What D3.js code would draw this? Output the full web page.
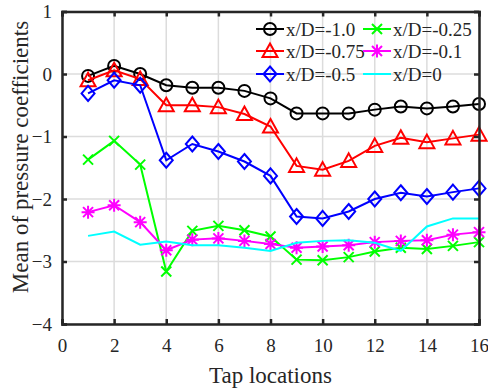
<!DOCTYPE html>
<html>
<head>
<meta charset="utf-8">
<script src="https://cdn.jsdelivr.net/npm/d3@7"></script>
<style>
  body { margin: 0; background: #fff; }
  svg text { font-family: "Liberation Serif", "Times New Roman", serif; fill: #262626; }
</style>
</head>
<body>
<div id="chart"></div>
<script>
// tap locations
const taps = [1, 2, 3, 4, 5, 6, 7, 8, 9, 10, 11, 12, 13, 14, 15, 16];
const xTicks = [0, 2, 4, 6, 8, 10, 12, 14, 16];
const yTicks = [-4, -3, -2, -1, 0, 1];

const labels = ["x/D=-1.0", "x/D=-0.75", "x/D=-0.5", "x/D=-0.25", "x/D=-0.1", "x/D=0"];
const colors = ["#000000", "#ff0000", "#0000ff", "#00ff00", "#ff00ff", "#00ffff"];
const markers = ["circle", "triangle", "diamond", "cross", "star", "none"];

const cpM10 = [-0.03, 0.13, 0.0, -0.18, -0.22, -0.22, -0.27, -0.39, -0.63, -0.63, -0.63, -0.57, -0.52, -0.55, -0.52, -0.48];
const cpM075 = [-0.1, 0.06, -0.08, -0.5, -0.5, -0.53, -0.64, -0.84, -1.47, -1.53, -1.39, -1.15, -1.02, -1.09, -1.03, -0.97];
const cpM05 = [-0.31, -0.1, -0.18, -1.38, -1.12, -1.24, -1.4, -1.63, -2.28, -2.31, -2.2, -2.0, -1.9, -1.96, -1.89, -1.83];
const cpM025 = [-1.37, -1.07, -1.45, -3.16, -2.51, -2.43, -2.5, -2.6, -2.97, -2.98, -2.93, -2.84, -2.78, -2.8, -2.75, -2.69];
const cpM01 = [-2.21, -2.1, -2.37, -2.82, -2.65, -2.63, -2.67, -2.72, -2.78, -2.76, -2.74, -2.69, -2.67, -2.66, -2.57, -2.53];
const cp0 = [-2.59, -2.52, -2.73, -2.68, -2.74, -2.74, -2.78, -2.83, -2.7, -2.67, -2.66, -2.7, -2.83, -2.44, -2.31, -2.31];

const series = [cpM10, cpM075, cpM05, cpM025, cpM01, cp0];

const W = 488, H = 389;
const margin = { top: 11.5, right: 9, bottom: 65, left: 62 };
const width = W - margin.left - margin.right;
const height = H - margin.top - margin.bottom;
const serif = "'Liberation Serif', 'Times New Roman', serif";

const svg = d3.select("#chart").append("svg")
  .attr("width", W).attr("height", H);
const g = svg.append("g")
  .attr("transform", "translate(" + margin.left + "," + margin.top + ")");

const x = d3.scaleLinear().domain([0, 16]).range([0, width]);
const y = d3.scaleLinear().domain([-4, 1]).range([height, 0]);

// grid
g.append("g").selectAll("line").data(xTicks).join("line")
  .attr("x1", d => x(d)).attr("x2", d => x(d))
  .attr("y1", 0).attr("y2", height)
  .attr("stroke", "#dcdcdc").attr("stroke-width", 1.5);
g.append("g").selectAll("line").data(yTicks).join("line")
  .attr("y1", d => y(d)).attr("y2", d => y(d))
  .attr("x1", 0).attr("x2", width)
  .attr("stroke", "#dcdcdc").attr("stroke-width", 1.5);

// lines and markers
const line = d3.line().x((d, i) => x(taps[i])).y(d => y(d));

function drawMarker(sel, type, color) {
  if (type === "circle") {
    sel.append("circle").attr("r", 6).attr("fill", "none")
      .attr("stroke", color).attr("stroke-width", 2);
  } else if (type === "triangle") {
    sel.append("path").attr("d", "M0,-7.5L7.5,6L-7.5,6Z").attr("fill", "none")
      .attr("stroke", color).attr("stroke-width", 2);
  } else if (type === "diamond") {
    sel.append("path").attr("d", "M0,-7.5L6.5,0L0,7.5L-6.5,0Z").attr("fill", "none")
      .attr("stroke", color).attr("stroke-width", 2);
  } else if (type === "cross") {
    sel.append("path").attr("d", "M-5,-5L5,5M-5,5L5,-5").attr("fill", "none")
      .attr("stroke", color).attr("stroke-width", 2);
  } else if (type === "star") {
    sel.append("path").attr("d", "M-5,-5L5,5M-5,5L5,-5M0,-6.5L0,6.5M-6.5,0L6.5,0").attr("fill", "none")
      .attr("stroke", color).attr("stroke-width", 2);
  }
}

series.forEach((s, k) => {
  g.append("path").datum(s)
    .attr("fill", "none").attr("stroke", colors[k]).attr("stroke-width", 2)
    .attr("d", line);
  g.append("g").selectAll("g").data(s).join("g")
    .attr("transform", (d, i) => "translate(" + x(taps[i]) + "," + y(d) + ")")
    .each(function () { drawMarker(d3.select(this), markers[k], colors[k]); });
});

// axes box with inward ticks
const axisColor = "#262626";
const tickLen = 5;
const bottomAxis = g.append("g").attr("transform", "translate(0," + height + ")")
  .call(d3.axisBottom(x).tickValues(xTicks).tickSize(-tickLen).tickPadding(15).tickFormat(d3.format("d")));
const topAxis = g.append("g")
  .call(d3.axisTop(x).tickValues(xTicks).tickSize(-tickLen).tickFormat(""));
const leftAxis = g.append("g")
  .call(d3.axisLeft(y).tickValues(yTicks).tickSize(-tickLen).tickPadding(10).tickFormat(d3.format("d")));
const rightAxis = g.append("g").attr("transform", "translate(" + width + ",0)")
  .call(d3.axisRight(y).tickValues(yTicks).tickSize(-tickLen).tickFormat(""));

[bottomAxis, topAxis, leftAxis, rightAxis].forEach(a => {
  a.attr("font-family", serif).attr("font-size", 19);
  a.select(".domain").attr("stroke", axisColor).attr("stroke-width", 2.5);
  a.selectAll(".tick line").attr("stroke", axisColor).attr("stroke-width", 2.5);
  a.selectAll("text").attr("fill", axisColor);
});
bottomAxis.selectAll("text").attr("dy", "0.71em");

// axis titles
svg.append("text")
  .attr("x", margin.left + width / 2).attr("y", 383)
  .attr("text-anchor", "middle").attr("font-size", 23)
  .text("Tap locations");
svg.append("text")
  .attr("transform", "translate(28,157) rotate(-90)")
  .attr("text-anchor", "middle").attr("font-size", 23)
  .text("Mean of pressure coefficients");

// legend
const legendCols = [{ x: 256, items: [0, 1, 2] }, { x: 363, items: [3, 4, 5] }];
const legendRows = [29, 51, 74];
legendCols.forEach(col => {
  col.items.forEach((k, r) => {
    const lg = svg.append("g").attr("transform", "translate(" + col.x + "," + legendRows[r] + ")");
    lg.append("line").attr("x1", 0).attr("x2", 28).attr("y1", 0).attr("y2", 0)
      .attr("stroke", colors[k]).attr("stroke-width", 2);
    const m = lg.append("g").attr("transform", "translate(14,0)");
    drawMarker(m, markers[k], colors[k]);
    lg.append("text").attr("x", 30).attr("y", 0).attr("dy", "0.35em")
      .attr("font-size", 19).text(labels[k]);
  });
});
</script>
</body>
</html>
